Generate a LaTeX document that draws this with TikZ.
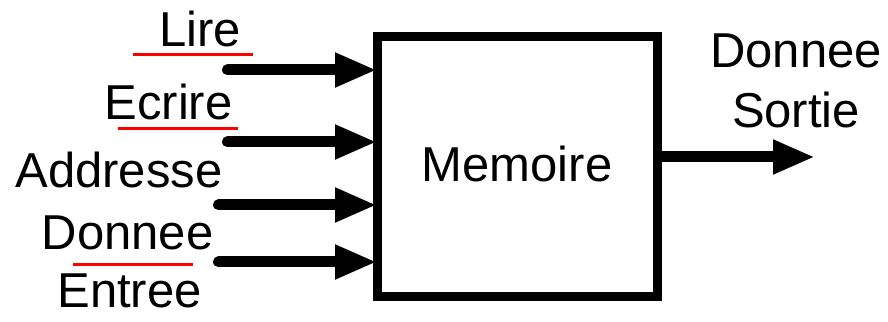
\documentclass[tikz,border=0pt]{standalone}
\usepackage{fontspec}
\setmainfont{Liberation Sans}
\usetikzlibrary{arrows.meta}
\begin{document}
\begin{tikzpicture}[x=1pt,y=1pt,
  every node/.style={font=\fontsize{49}{58}\selectfont, inner sep=0pt},
  lbl/.style={anchor=base},
  membox/.style={draw, line width=9pt, outer sep=0pt, minimum width=280pt, minimum height=260pt},
  sig/.style={line width=11pt, line cap=round, -{Triangle[length=42pt,width=32pt]}},
  squig/.style={red, line width=3pt}]
\useasboundingbox (0,0) rectangle (888,321);

% memory block
\node[membox] (mem) at (517,154) {};
\node[lbl] (memtxt) at (517,139) {Memoire};

% input labels
\node[lbl] (lire) at (200,274) {Lire};
\node[lbl] (ecrire) at (168.5,201) {Ecrire};
\node[lbl] (addr) at (119,133) {Addresse};
\node[lbl] (din) at (127.5,71) {Donnee};
\node[lbl] (entree) at (129.5,13) {Entree};

% output labels
\node[lbl] (dout) at (796,253) {Donnee};
\node[lbl] (sortie) at (796,193) {Sortie};

% spelling marks under some words
\draw[squig] (133,266) -- (253,266);
\draw[squig] (118,192) -- (238,192);
\draw[squig] (73,56) -- (193,56);

% input signal start points
\coordinate (sLire) at (227.5,251);
\coordinate (sEcrire) at (227.5,179);
\coordinate (sAddr) at (218.5,116);
\coordinate (sDin) at (218.5,59);
\coordinate (eOut) at (815,164);

% signals
\draw[sig] (sLire) -- (sLire -| mem.west);
\draw[sig] (sEcrire) -- (sEcrire -| mem.west);
\draw[sig] (sAddr) -- (sAddr -| mem.west);
\draw[sig] (sDin) -- (sDin -| mem.west);
\draw[sig, line cap=butt] (eOut -| mem.east) -- (eOut);
\end{tikzpicture}
\end{document}
